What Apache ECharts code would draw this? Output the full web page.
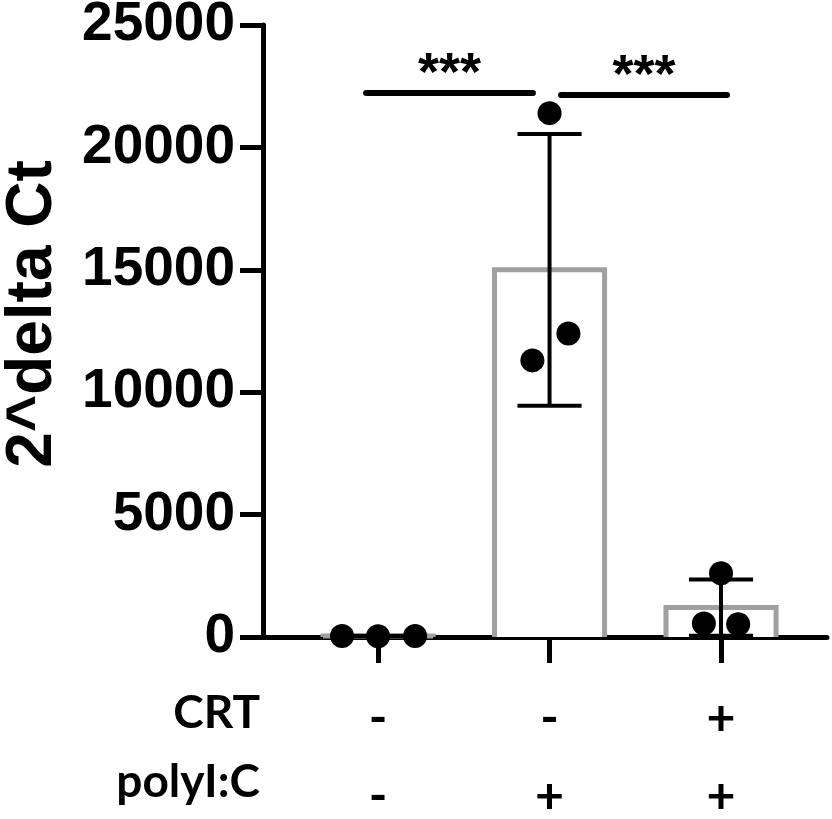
<!DOCTYPE html>
<html>
<head>
<meta charset="utf-8">
<script src="https://cdn.jsdelivr.net/npm/echarts@6/dist/echarts.min.js"></script>
<style>
html,body{margin:0;padding:0;background:#fff;}
#chart{width:832px;height:819px;}
</style>
</head>
<body>
<div id="chart"></div>
<script>
// ---- data ----
const groupX = [1, 2, 3];
const crtRow = ['-', '-', '+'];
const polyRow = ['-', '+', '+'];
const rowTitles = ['CRT', 'polyI:C'];
const barMeans = [40, 15000, 1200];
const barSD = [10, 5550, 1150];
const pointsG1 = [40, 30, 45];
const pointsG2 = [11300, 21400, 12400];
const pointsG3 = [550, 2600, 520];
const jitterG1 = [-0.21, 0, 0.216];
const jitterG2 = [-0.1, 0, 0.11];
const jitterG3 = [-0.1, 0, 0.1];
const yMin = 0, yMax = 25000, yStep = 5000;
const sigFrom = [0.93, 2.067];
const sigTo = [1.903, 3.035];
const sigY = [22220, 22140];
const sigText = ['***', '***'];
const yTitle = '2^delta Ct';

const pointGroups = [pointsG1, pointsG2, pointsG3];
const jitters = [jitterG1, jitterG2, jitterG3];
const scatterData = [];
pointGroups.forEach((g, i) => g.forEach((v, j) => scatterData.push([groupX[i] + jitters[i][j], v])));

const BAR_HALF = 0.321;
const CAP_HALF = 0.187;

const chart = echarts.init(document.getElementById('chart'));
chart.setOption({
  animation: false,
  backgroundColor: '#fff',
  grid: { left: 263, right: 5, top: 25, bottom: 182, containLabel: false, outerBoundsMode: 'none' },
  xAxis: {
    type: 'value', min: 0.329, max: 3.618,
    splitLine: { show: false },
    axisLine: { show: true, onZero: false, lineStyle: { color: '#000', width: 5 } },
    axisTick: { show: true, customValues: groupX, length: 26, lineStyle: { color: '#000', width: 5 } },
    axisLabel: {
      show: true, customValues: groupX, margin: 43,
      formatter: (v) => { const i = groupX.indexOf(v); return i < 0 ? '' : crtRow[i] + '\n' + polyRow[i]; },
      fontFamily: 'Lato', fontWeight: 'bold', fontSize: 50, lineHeight: 78, color: '#000'
    }
  },
  yAxis: {
    type: 'value', min: yMin, max: yMax, interval: yStep,
    splitLine: { show: false },
    axisLine: { show: true, lineStyle: { color: '#000', width: 5 } },
    axisTick: { show: true, length: 23, lineStyle: { color: '#000', width: 5 } },
    axisLabel: { margin: 28, formatter: (v) => String(v), fontFamily: 'Liberation Sans', fontWeight: 'bold', fontSize: 55, color: '#000' }
  },
  graphic: [
    { type: 'text', x: 33, y: 314, rotation: Math.PI / 2,
      style: { text: yTitle, align: 'center', verticalAlign: 'middle', font: 'bold 64px "Liberation Sans"', fill: '#000' } },
    { type: 'text', x: 260, y: 713, style: { text: rowTitles[0], align: 'right', verticalAlign: 'middle', font: 'bold 46px Lato', fill: '#000' } },
    { type: 'text', x: 260, y: 782, style: { text: rowTitles[1], align: 'right', verticalAlign: 'middle', font: 'bold 46px Lato', fill: '#000' } }
  ],
  series: [
    {
      type: 'custom', z: 1,
      data: groupX.map((x, i) => [x, barMeans[i]]),
      renderItem: (params, api) => {
        const x = api.value(0), v = api.value(1);
        const p1 = api.coord([x - BAR_HALF, 0]);
        const p2 = api.coord([x - BAR_HALF, v]);
        const p3 = api.coord([x + BAR_HALF, v]);
        const p4 = api.coord([x + BAR_HALF, 0]);
        return { type: 'polyline', shape: { points: [p1, p2, p3, p4] },
          style: { stroke: '#a0a0a0', lineWidth: 5, fill: '#fff' } };
      }
    },
    {
      type: 'custom', z: 3,
      data: groupX.map((x, i) => [x, barMeans[i], barSD[i]]),
      renderItem: (params, api) => {
        const x = api.value(0), m = api.value(1), s = api.value(2);
        const top = api.coord([x, m + s]), bot = api.coord([x, Math.max(0, m - s)]);
        const tl = api.coord([x - CAP_HALF, m + s]), tr = api.coord([x + CAP_HALF, m + s]);
        const bl = api.coord([x - CAP_HALF, m - s]), br = api.coord([x + CAP_HALF, m - s]);
        const st = { stroke: '#000', lineWidth: 4 };
        return { type: 'group', children: [
          { type: 'line', shape: { x1: top[0], y1: top[1], x2: bot[0], y2: bot[1] }, style: st },
          { type: 'line', shape: { x1: tl[0], y1: tl[1], x2: tr[0], y2: tr[1] }, style: st },
          { type: 'line', shape: { x1: bl[0], y1: bl[1], x2: br[0], y2: br[1] }, style: st }
        ] };
      }
    },
    {
      type: 'scatter', z: 4, symbol: 'circle', symbolSize: 24,
      itemStyle: { color: '#000', opacity: 1 },
      emphasis: { disabled: true },
      data: scatterData
    },
    {
      type: 'custom', z: 5,
      data: sigFrom.map((f, i) => [f, sigTo[i], sigY[i]]),
      renderItem: (params, api) => {
        const a = api.coord([api.value(0), api.value(2)]);
        const b = api.coord([api.value(1), api.value(2)]);
        return { type: 'group', children: [
          { type: 'line', shape: { x1: a[0], y1: a[1], x2: b[0], y2: b[1] }, style: { stroke: '#000', lineWidth: 6, lineCap: 'round' } },
          { type: 'text', x: (a[0] + b[0]) / 2, y: a[1] - 18,
            style: { text: sigText[params.dataIndex], align: 'center', verticalAlign: 'middle', font: 'bold 54px "Liberation Sans"', fill: '#000' } }
        ] };
      }
    }
  ]
});
</script>
</body>
</html>
